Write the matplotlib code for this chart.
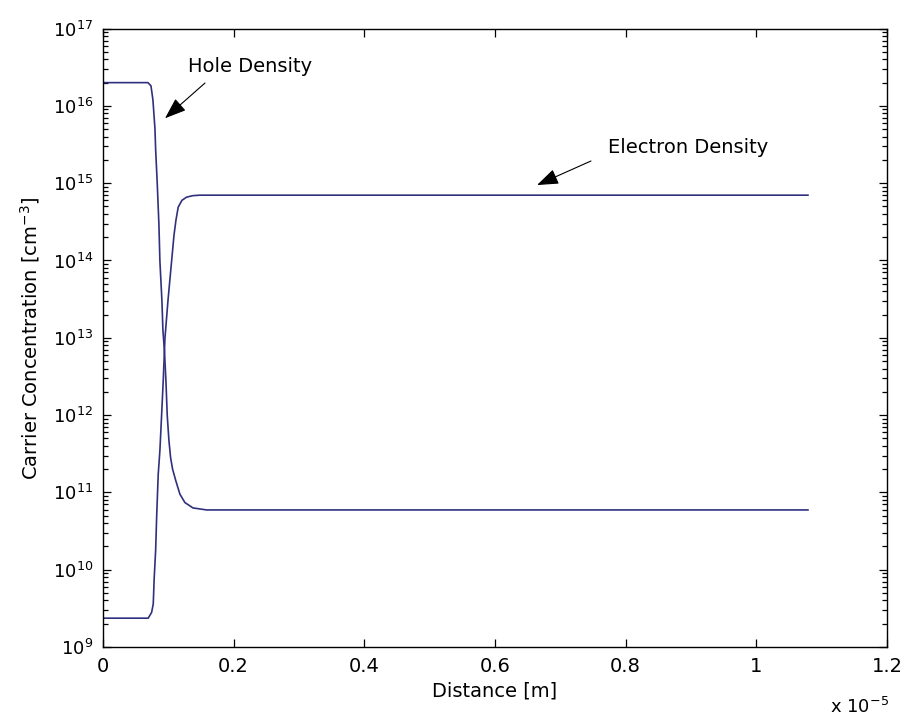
import matplotlib
matplotlib.use('Agg')
import matplotlib.pyplot as plt
import matplotlib.ticker as mticker
from matplotlib.patches import FancyArrowPatch
import numpy as np

# distance in units of 1e-5 m, concentrations in cm^-3
hole_x = [0, 0.0688, 0.0734, 0.0764, 0.0795, 0.0806, 0.0830, 0.0856, 0.0871, 0.0902,
          0.0917, 0.0940, 0.0963, 0.0983, 0.1009, 0.1035, 0.1065, 0.1116, 0.1177,
          0.1253, 0.1376, 0.1585, 1.079]
hole_p = [2.0e16, 2.0e16, 1.82e16, 1.2e16, 5.1e15, 2.7e15, 1.0e15, 2.9e14, 9.8e13, 3.0e13,
          1.26e13, 6.9e12, 2.8e12, 1.0e12, 4.7e11, 2.8e11, 2.0e11, 1.4e11, 9.5e10,
          7.4e10, 6.3e10, 5.93e10, 5.93e10]

elec_x = [0, 0.0692, 0.0744, 0.0769, 0.0784, 0.0806, 0.0821, 0.0845, 0.0871, 0.0897,
          0.0922, 0.0948, 0.0994, 0.1050, 0.1086, 0.1116, 0.1151, 0.1208, 0.1279,
          0.1376, 0.1483, 1.079]
elec_n = [2.36e9, 2.36e9, 2.8e9, 3.6e9, 7.9e9, 1.8e10, 4.8e10, 1.7e11, 3.5e11, 1.0e12,
          2.8e12, 9.8e12, 3.0e13, 9.8e13, 2.1e14, 3.3e14, 4.9e14, 6.0e14, 6.6e14,
          6.9e14, 7.0e14, 7.0e14]

x_ticks = [0, 0.2, 0.4, 0.6, 0.8, 1.0, 1.2]
x_tick_labels = ['0', '0.2', '0.4', '0.6', '0.8', '1', '1.2']
y_exponents = [9, 10, 11, 12, 13, 14, 15, 16, 17]

plt.rcParams['font.family'] = ['DejaVu Sans']
plt.rcParams['mathtext.default'] = 'regular'

line_color = '#30307f'
fs = 14

fig = plt.figure(figsize=(9.06, 7.25), dpi=100)
ax = fig.add_axes([103/906, 78/725, 784/906, 618.4/725])

ax.semilogy(np.array(hole_x) * 1e-5, hole_p, color=line_color, lw=1.2)
ax.semilogy(np.array(elec_x) * 1e-5, elec_n, color=line_color, lw=1.2)

ax.set_xlim(0, 1.2e-5)
ax.set_ylim(1e9, 1e17)
ax.set_xticks(np.array(x_ticks) * 1e-5)
ax.set_xticklabels(x_tick_labels)
ax.set_yticks([10.0 ** e for e in y_exponents])
ax.set_yticklabels(['10$^{%d}$' % e for e in y_exponents])
minor = [m * 10.0 ** e for e in y_exponents[:-1] for m in range(2, 10)]
ax.set_yticks(minor, minor=True)
ax.yaxis.set_minor_formatter(mticker.NullFormatter())
ax.xaxis.set_minor_locator(mticker.NullLocator())

ax.tick_params(which='both', direction='in', top=True, right=True, width=0.9)
ax.tick_params(which='major', length=6, labelsize=fs)
ax.tick_params(which='minor', length=3.5)
ax.tick_params(axis='x', pad=7)
ax.tick_params(axis='y', pad=7, labelsize=13)
for s in ax.spines.values():
    s.set_linewidth(1.0)

ax.set_xlabel('Distance [m]', fontsize=fs, labelpad=4)
ax.set_ylabel('Carrier Concentration [cm$^{-3}$]', fontsize=fs, labelpad=8)

ax.text(0.927, -0.097, 'x 10$^{-5}$', transform=ax.transAxes, fontsize=13,
        ha='left', va='center')

# text arrows, drawn as patches in axes fraction
arrow_style = '-|>,head_length=0.6,head_width=0.22'
for tail, tip in [((0.1301, 0.912), (0.0791, 0.855)),
                  ((0.6224, 0.7859), (0.5536, 0.747))]:
    ax.add_patch(FancyArrowPatch(tail, tip, transform=ax.transAxes,
                                 arrowstyle=arrow_style, mutation_scale=22,
                                 color='black', lw=0.8, shrinkA=0, shrinkB=0))
ax.text(0.1084, 0.938, 'Hole Density', transform=ax.transAxes, fontsize=fs,
        ha='left', va='center')
ax.text(0.644, 0.8085, 'Electron Density', transform=ax.transAxes, fontsize=fs,
        ha='left', va='center')

fig.savefig('out.png', dpi=100)
